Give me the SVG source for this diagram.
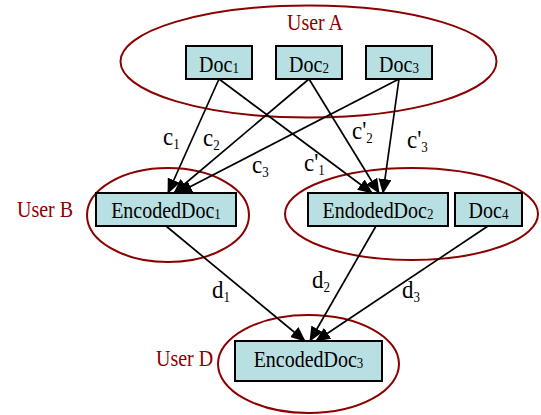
<svg xmlns="http://www.w3.org/2000/svg" width="541" height="415" viewBox="0 0 541 415">
<defs>
<style>
.grp{fill:none;stroke:#8B0000;stroke-width:2}
.box{fill:#B8E0E2;stroke:#000;stroke-width:2}
.t{font-size:20px;fill:#000;text-anchor:middle}
.u{font-size:20px;fill:#8B0000}
.lbl{font-size:23px;fill:#000}
.sub{font-size:13px}
.e{stroke:#000;stroke-width:1.7;fill:none;marker-end:url(#ah)}
</style>
<marker id="ah" viewBox="0 0 15 13" refX="14" refY="6.5" markerWidth="15" markerHeight="13" markerUnits="userSpaceOnUse" orient="auto">
<path d="M0,0 L15,6.5 L0,13 z" fill="#000"/>
</marker>
</defs>
<g font-family="Liberation Serif, Times New Roman, DejaVu Serif, serif">
<g id="userA"><ellipse class="grp" cx="308.5" cy="61.5" rx="188" ry="56"/><text class="u" transform="translate(315 30) scale(1 1.12)" text-anchor="middle">User A</text></g>
<g id="userB"><ellipse class="grp" cx="168" cy="215" rx="81" ry="47"/><text class="u" transform="translate(17 217) scale(1 1.12)">User B</text></g>
<g id="userC"><ellipse class="grp" cx="411.5" cy="214" rx="126.5" ry="46"/></g>
<g id="userD"><ellipse class="grp" cx="308.5" cy="364" rx="90.5" ry="49"/><text class="u" transform="translate(156 366) scale(1 1.12)">User D</text></g>
<g id="edges">
<line class="e" x1="219" y1="79" x2="168" y2="193"/>
<line class="e" x1="309" y1="79" x2="174" y2="193"/>
<line class="e" x1="399" y1="79" x2="178" y2="193"/>
<line class="e" x1="219" y1="79" x2="372" y2="193"/>
<line class="e" x1="309" y1="79" x2="379" y2="193"/>
<line class="e" x1="399" y1="79" x2="383" y2="193"/>
<line class="e" x1="166" y1="226" x2="305" y2="341"/>
<line class="e" x1="376" y1="226" x2="310" y2="341"/>
<line class="e" x1="488" y1="226" x2="316" y2="341"/>
<text class="lbl" transform="translate(163 145) scale(1 1.12)">c<tspan class="sub" dy="4">1</tspan></text>
<text class="lbl" transform="translate(203 146) scale(1 1.12)">c<tspan class="sub" dy="4">2</tspan></text>
<text class="lbl" transform="translate(252 173) scale(1 1.12)">c<tspan class="sub" dy="4">3</tspan></text>
<text class="lbl" transform="translate(304 171) scale(1 1.12)">c'<tspan class="sub" dy="4">1</tspan></text>
<text class="lbl" transform="translate(352 139) scale(1 1.12)">c'<tspan class="sub" dy="4">2</tspan></text>
<text class="lbl" transform="translate(407 148) scale(1 1.12)">c'<tspan class="sub" dy="4">3</tspan></text>
<text class="lbl" transform="translate(212 298) scale(1 1.12)">d<tspan class="sub" dy="4">1</tspan></text>
<text class="lbl" transform="translate(312 288) scale(1 1.12)">d<tspan class="sub" dy="4">2</tspan></text>
<text class="lbl" transform="translate(402 298) scale(1 1.12)">d<tspan class="sub" dy="4">3</tspan></text>
</g>
<g id="doc1"><rect class="box" x="186" y="46" width="66" height="33"/><text class="t" transform="translate(219 72) scale(1 1.12)">Doc<tspan class="sub" dy="1">1</tspan></text></g>
<g id="doc2"><rect class="box" x="276" y="46" width="66" height="33"/><text class="t" transform="translate(309 72) scale(1 1.12)">Doc<tspan class="sub" dy="1">2</tspan></text></g>
<g id="doc3"><rect class="box" x="366" y="46" width="66" height="33"/><text class="t" transform="translate(399 72) scale(1 1.12)">Doc<tspan class="sub" dy="1">3</tspan></text></g>
<g id="encodedDoc1"><rect class="box" x="96" y="193" width="140" height="33"/><text class="t" transform="translate(166 218) scale(1 1.12)">EncodedDoc<tspan class="sub" dy="1">1</tspan></text></g>
<g id="endodedDoc2"><rect class="box" x="308" y="193" width="140" height="33"/><text class="t" transform="translate(378 218) scale(1 1.12)">EndodedDoc<tspan class="sub" dy="1">2</tspan></text></g>
<g id="doc4"><rect class="box" x="455" y="193" width="67" height="33"/><text class="t" transform="translate(488.5 218) scale(1 1.12)">Doc<tspan class="sub" dy="1">4</tspan></text></g>
<g id="encodedDoc3"><rect class="box" x="235" y="341" width="147" height="40"/><text class="t" transform="translate(308.5 367) scale(1 1.12)">EncodedDoc<tspan class="sub" dy="1">3</tspan></text></g>
</g>
</svg>
